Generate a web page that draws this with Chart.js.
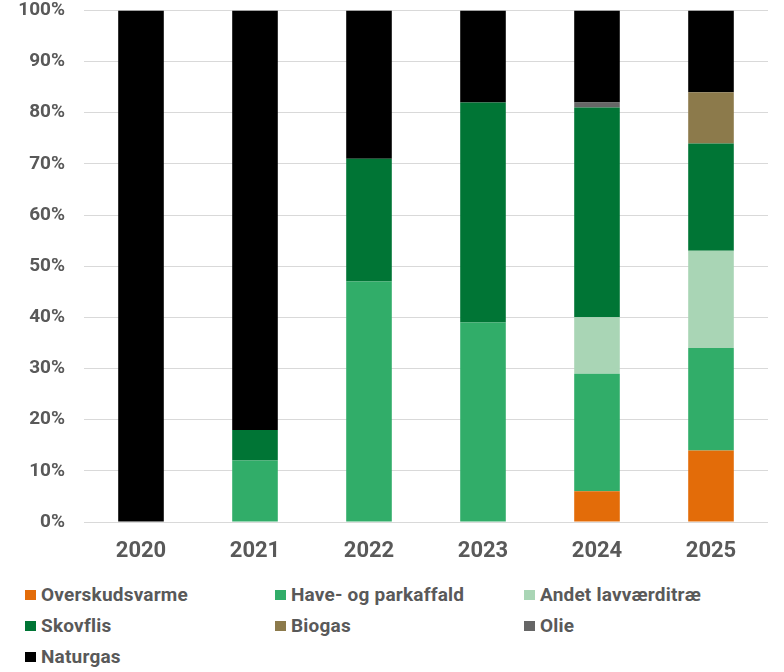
<!DOCTYPE html>
<html>
<head>
<meta charset="utf-8">
<script src="https://cdn.jsdelivr.net/npm/chart.js@4"></script>
<style>
  html, body { margin: 0; padding: 0; background: #fff; }
  #wrap { position: relative; width: 784px; height: 672px; overflow: hidden; }
  #chart { position: absolute; left: 0; top: -20px; }
  #legend {
    position: absolute; left: 25px; top: 579px;
    display: grid; grid-template-columns: 250px 249px 240px;
    grid-auto-rows: 31px;
    font-family: Roboto, sans-serif;
    font-weight: bold; font-size: 19px; letter-spacing: 0.2px; color: #595959;
  }
  .item { display: flex; align-items: center; white-space: nowrap; }
  .box { width: 11px; height: 10px; margin-right: 5px; flex: none; }
</style>
</head>
<body>
<div id="wrap">
  <canvas id="chart" width="784" height="595"></canvas>
  <div id="legend"></div>
</div>
<script>
// === DATA ===
const years = ['2020', '2021', '2022', '2023', '2024', '2025'];
const seriesNames = ['Overskudsvarme', 'Have- og parkaffald', 'Andet lavværditræ', 'Skovflis', 'Biogas', 'Olie', 'Naturgas'];
const overskudsvarme = [0, 0, 0, 0, 6, 14];
const haveParkaffald = [0, 12, 47, 39, 23, 20];
const andetLavvaerditrae = [0, 0, 0, 0, 11, 19];
const skovflis = [0, 6, 24, 43, 41, 21];
const biogas = [0, 0, 0, 0, 0, 10];
const olie = [0, 0, 0, 0, 1, 0];
const naturgas = [100, 82, 29, 18, 18, 16];
const yTicks = [0, 10, 20, 30, 40, 50, 60, 70, 80, 90, 100];

const colors = ['#E36C09', '#31AD69', '#A9D5B5', '#007535', '#8C7A4B', '#666666', '#000000'];
const values = [overskudsvarme, haveParkaffald, andetLavvaerditrae, skovflis, biogas, olie, naturgas];

// === CHART ===
const ctx = document.getElementById('chart').getContext('2d');
const chart = new Chart(ctx, {
  type: 'bar',
  data: {
    labels: years,
    datasets: seriesNames.map((name, i) => ({
      label: name,
      data: values[i],
      backgroundColor: colors[i],
      borderWidth: 0,
      categoryPercentage: 1,
      barPercentage: 0.4
    }))
  },
  options: {
    responsive: false,
    animation: false,
    layout: { padding: { top: 0, right: 16, left: 0, bottom: 0 } },
    plugins: { legend: { display: false }, tooltip: { enabled: false } },
    scales: {
      x: {
        stacked: true,
        grid: { display: false },
        border: { display: false },
        ticks: { color: '#595959', font: { family: 'Roboto', size: 22, weight: 'bold' }, padding: 8 },
        afterFit: s => { s.height = 53; }
      },
      y: {
        stacked: true,
        min: 0, max: 100,
        afterBuildTicks: s => { s.ticks = yTicks.map(v => ({ value: v })); },
        grid: { color: '#d9d9d9', lineWidth: 1, drawTicks: false },
        border: { display: false },
        ticks: {
          color: '#595959',
          font: { family: 'Roboto', size: 19, weight: 'bold' },
          padding: 19,
          callback: v => v + '%'
        },
        afterFit: s => { s.width = 84; }
      }
    }
  }
});

// === HTML LEGEND ===
document.getElementById('legend').innerHTML = chart.data.datasets.map(ds =>
  `<div class="item"><span class="box" style="background:${ds.backgroundColor}"></span>${ds.label}</div>`
).join('');
</script>
</body>
</html>
